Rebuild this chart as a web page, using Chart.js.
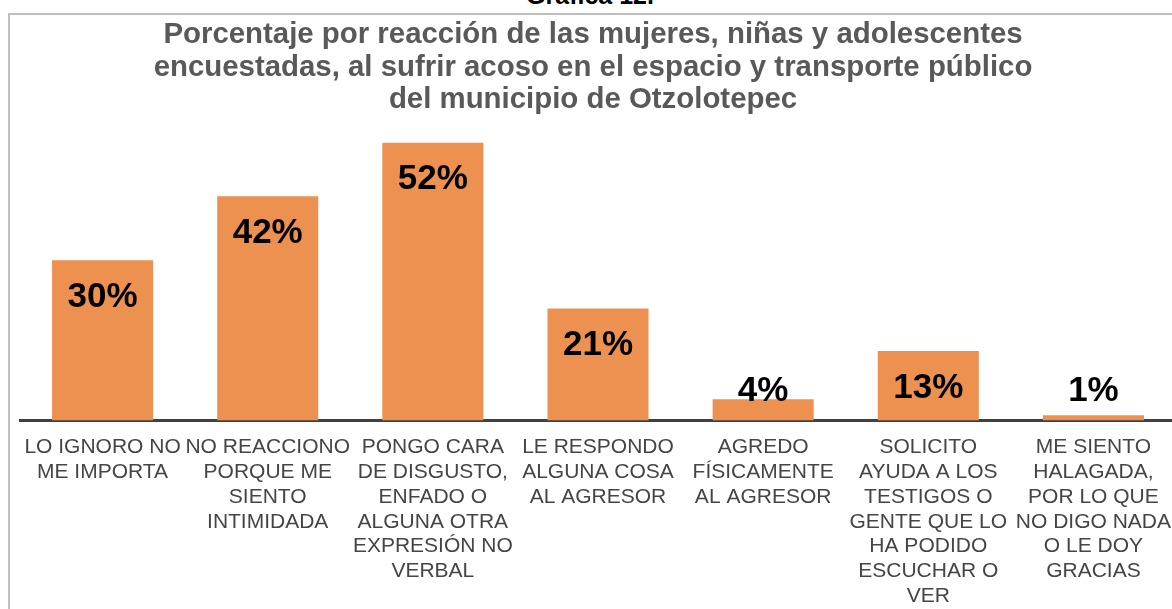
<!DOCTYPE html>
<html>
<head>
<meta charset="utf-8">
<script src="https://cdn.jsdelivr.net/npm/chart.js@4"></script>
<style>
  html, body { margin: 0; padding: 0; width: 1172px; height: 609px; overflow: hidden; background: #fff; }
  #frame { position: absolute; left: 8px; top: 13px; width: 2000px; height: 2000px;
           border-left: 2px solid #bfbfbf; border-top: 2px solid #bfbfbf; }
  #caption { position: absolute; left: 0; width: 1180px; top: -17px; text-align: center;
             font: bold 25px/25px "Liberation Sans", Arial, sans-serif; color: #000; }
  #wrap { position: absolute; left: 0; top: 0; width: 1180px; height: 623px; }
</style>
</head>
<body>
<div id="frame"></div>
<div id="caption">Gráfica 12.</div>
<div id="wrap"><canvas id="chart"></canvas></div>
<script>
// ---- DATA ----
const categories = [
  ['LO IGNORO NO', 'ME IMPORTA'],
  ['NO REACCIONO', 'PORQUE ME', 'SIENTO', 'INTIMIDADA'],
  ['PONGO CARA', 'DE DISGUSTO,', 'ENFADO O', 'ALGUNA OTRA', 'EXPRESIÓN NO', 'VERBAL'],
  ['LE RESPONDO', 'ALGUNA COSA', 'AL AGRESOR'],
  ['AGREDO', 'FÍSICAMENTE', 'AL AGRESOR'],
  ['SOLICITO', 'AYUDA A LOS', 'TESTIGOS O', 'GENTE QUE LO', 'HA PODIDO', 'ESCUCHAR O', 'VER'],
  ['ME SIENTO', 'HALAGADA,', 'POR LO QUE', 'NO DIGO NADA', 'O LE DOY', 'GRACIAS']
];
const percentages = [30, 42, 52, 21, 4, 13, 1];
const titleLines = [
  'Porcentaje por reacción de las mujeres, niñas y adolescentes',
  'encuestadas, al sufrir acoso en el espacio y transporte público',
  'del municipio de Otzolotepec'
];

const FONT = '"Liberation Sans", Arial, sans-serif';

// ---- VALUE LABELS ----
const valueLabels = {
  id: 'valueLabels',
  afterDatasetsDraw(chart) {
    const { ctx, chartArea } = chart;
    const meta = chart.getDatasetMeta(0);
    ctx.save();
    ctx.font = `bold 35px ${FONT}`;
    ctx.fillStyle = '#000';
    ctx.textAlign = 'center';
    ctx.textBaseline = 'middle';
    meta.data.forEach((bar, i) => {
      const y = Math.min(bar.y + 37, chartArea.bottom - 29);
      ctx.fillText(percentages[i] + '%', bar.x, y);
    });
    ctx.restore();
  }
};

// ---- CHART ----
new Chart(document.getElementById('chart'), {
  type: 'bar',
  data: {
    labels: categories,
    datasets: [{
      data: percentages,
      backgroundColor: '#ED9150',
      borderWidth: 0,
      categoryPercentage: 1,
      barPercentage: 0.612
    }]
  },
  options: {
    responsive: true,
    maintainAspectRatio: false,
    animation: false,
    layout: { padding: { left: 10, right: 4, top: 0, bottom: 0 } },
    plugins: {
      legend: { display: false },
      tooltip: { enabled: false },
      title: {
        display: true,
        text: titleLines,
        color: '#595959',
        font: { family: FONT, size: 29.4, weight: 'bold', lineHeight: 1.105 },
        padding: { top: 19, bottom: 5 }
      }
    },
    scales: {
      y: { display: false, min: 0, max: 56 },
      x: {
        afterFit(axis) {
          // fixed plot edges; labels may spill past them
          axis.paddingLeft = 20;
          axis.paddingRight = 0;
        },
        grid: { display: false, drawTicks: false },
        border: { color: '#404040', width: 3 },
        ticks: {
          color: '#454545',
          autoSkip: false,
          maxRotation: 0,
          minRotation: 0,
          padding: 14.5,
          font: { family: FONT, size: 21, lineHeight: 1.18 }
        }
      }
    }
  },
  plugins: [valueLabels]
});
</script>
</body>
</html>
